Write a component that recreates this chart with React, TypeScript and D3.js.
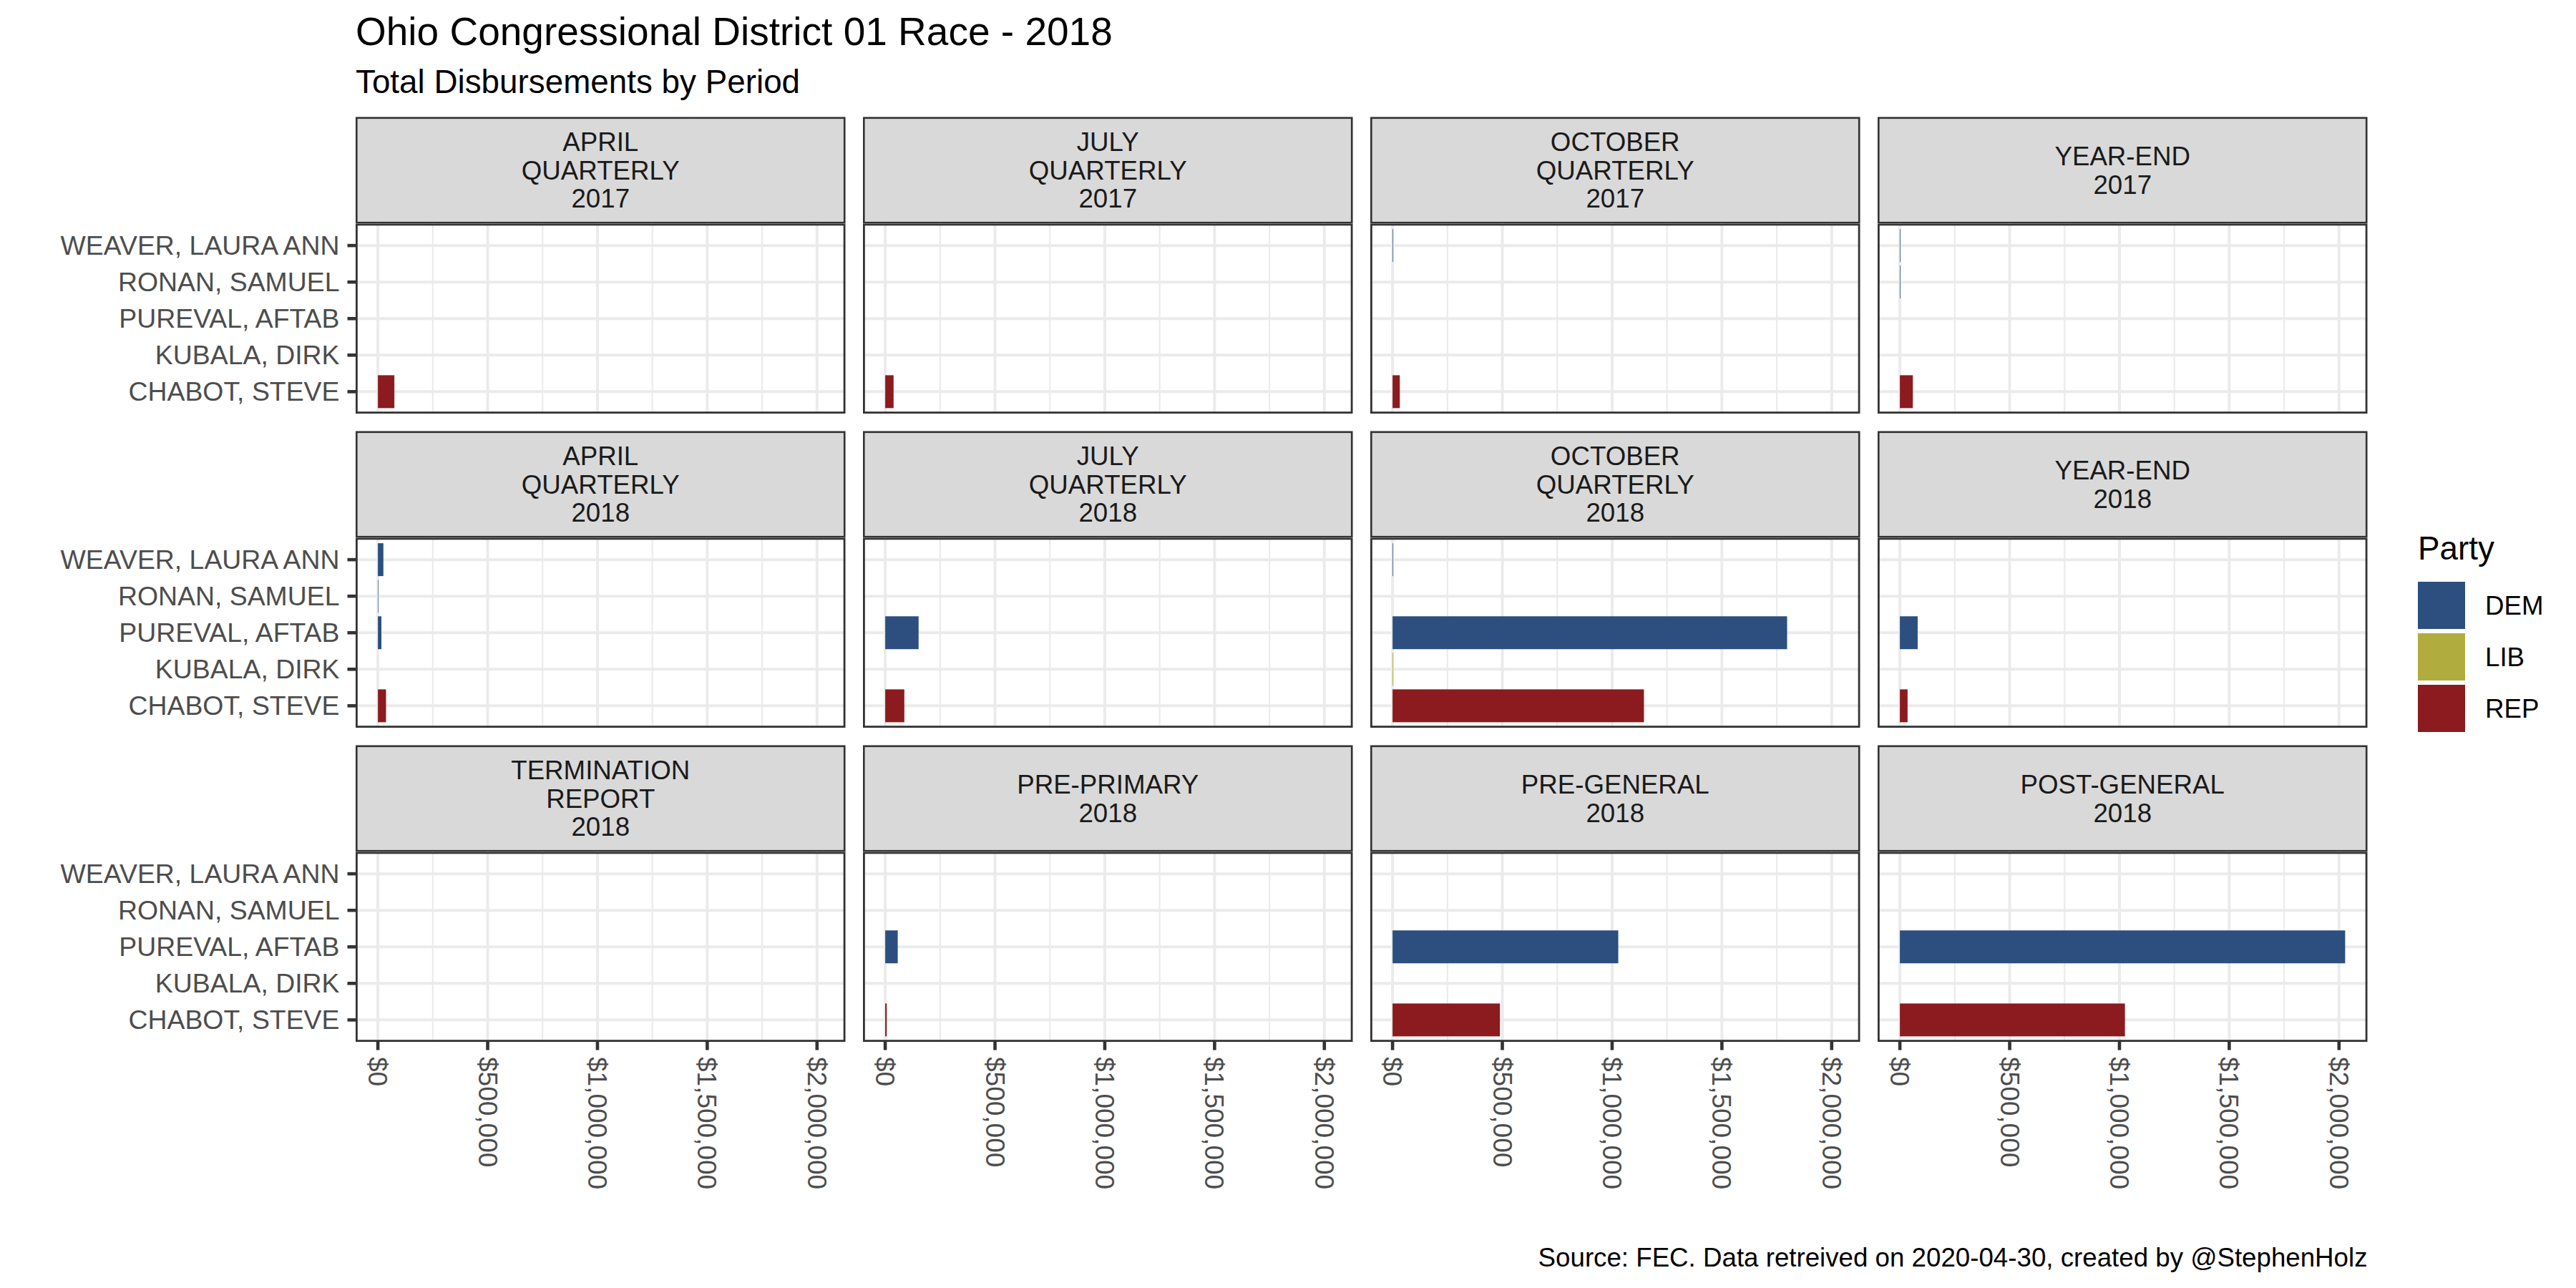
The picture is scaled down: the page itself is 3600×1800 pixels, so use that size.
import React from "react";
import * as d3 from "d3";

// ---------- DATA ----------
const candidates = ["CHABOT, STEVE", "KUBALA, DIRK", "PUREVAL, AFTAB", "RONAN, SAMUEL", "WEAVER, LAURA ANN"];
const candidateParty = ["REP", "LIB", "DEM", "DEM", "DEM"];
const parties = ["DEM", "LIB", "REP"];
const partyColors = ["#2C4F80", "#B1AC3E", "#8B1B1E"];

const periodLabels = [
  ["APRIL", "QUARTERLY", "2017"],
  ["JULY", "QUARTERLY", "2017"],
  ["OCTOBER", "QUARTERLY", "2017"],
  ["YEAR-END", "2017"],
  ["APRIL", "QUARTERLY", "2018"],
  ["JULY", "QUARTERLY", "2018"],
  ["OCTOBER", "QUARTERLY", "2018"],
  ["YEAR-END", "2018"],
  ["TERMINATION", "REPORT", "2018"],
  ["PRE-PRIMARY", "2018"],
  ["PRE-GENERAL", "2018"],
  ["POST-GENERAL", "2018"],
];

// values ordered as candidates: CHABOT, KUBALA, PUREVAL, RONAN, WEAVER
const aprilQ2017 = [75000, 0, 0, 0, 0];
const julyQ2017 = [38000, 0, 0, 0, 0];
const octoberQ2017 = [33000, 0, 0, 0, 2500];
const yearEnd2017 = [59000, 0, 0, 2500, 2500];
const aprilQ2018 = [37000, 0, 16000, 2000, 25000];
const julyQ2018 = [87000, 0, 152000, 0, 0];
const octoberQ2018 = [1145000, 3000, 1797000, 0, 2500];
const yearEnd2018 = [35000, 0, 81000, 0, 0];
const termination2018 = [0, 0, 0, 0, 0];
const prePrimary2018 = [7000, 0, 57000, 0, 0];
const preGeneral2018 = [489000, 0, 1028000, 0, 0];
const postGeneral2018 = [1025000, 0, 2028000, 0, 0];

const periodValues = [
  aprilQ2017, julyQ2017, octoberQ2017, yearEnd2017,
  aprilQ2018, julyQ2018, octoberQ2018, yearEnd2018,
  termination2018, prePrimary2018, preGeneral2018, postGeneral2018,
];

const xMajorTicks = [0, 500000, 1000000, 1500000, 2000000];
const xMinorTicks = [250000, 750000, 1250000, 1750000];

const titleText = "Ohio Congressional District 01 Race - 2018";
const subtitleText = "Total Disbursements by Period";
const captionText = "Source: FEC. Data retreived on 2020-04-30, created by @StephenHolz";
const legendTitle = "Party";

// ---------- LAYOUT ----------
const W = 3600;
const H = 1800;
const FONT = "'Liberation Sans', Arial, Helvetica, sans-serif";
const panelX0 = 497;
const panelW = 684.5;
const colStep = 709;
const panelY0 = 312.5;
const panelH = 265.5;
const rowStep = 439;
const stripH = 149;
const nCols = 4;

const grey20 = "#333333";
const grey30 = "#4D4D4D";
const grey85 = "#D9D9D9";
const grey92 = "#EBEBEB";

export default function App() {
  const allVals = periodValues.flat();
  const maxV = d3.max(allVals) as number;
  const x = d3.scaleLinear().domain([-0.05 * maxV, 1.05 * maxV]).range([0, panelW]);
  const y = d3
    .scaleBand<string>()
    .domain([...candidates].reverse())
    .range([0, panelH])
    .paddingInner(0.1)
    .paddingOuter(0.15);
  const color = d3.scaleOrdinal<string, string>().domain(parties).range(partyColors);
  const fmt = d3.format("$,.0f");
  const nRows = Math.ceil(periodLabels.length / nCols);

  return (
    <svg
      width={W}
      height={H}
      viewBox={`0 0 ${W} ${H}`}
      style={{ position: "absolute", left: 0, top: 0, background: "#fff" }}
      fontFamily={FONT}
    >
      <rect x={0} y={0} width={W} height={H} fill="#fff" />
      <text x={panelX0} y={63} fontSize={55} fill="#000">{titleText}</text>
      <text x={panelX0} y={130} fontSize={45.8} fill="#000">{subtitleText}</text>

      {periodLabels.map((lab, i) => {
        const c = i % nCols;
        const r = Math.floor(i / nCols);
        const px = panelX0 + c * colStep;
        const py = panelY0 + r * rowStep;
        const sy = py - stripH;
        const vals = periodValues[i];
        const lineH = 39.5;
        const midY = sy + stripH / 2;
        return (
          <g key={i}>
            {/* strip */}
            <rect x={px} y={sy} width={panelW} height={stripH} fill={grey85} />
            <rect x={px + 1.3} y={sy + 1.3} width={panelW - 2.6} height={stripH - 2.6} fill="none" stroke={grey20} strokeWidth={2.6} />
            {lab.map((t, k) => (
              <text
                key={k}
                x={px + panelW / 2}
                y={midY + (k - (lab.length - 1) / 2) * lineH}
                dy="0.35em"
                textAnchor="middle"
                fontSize={36.7}
                fill="#1A1A1A"
              >
                {t}
              </text>
            ))}
            {/* panel */}
            <g transform={`translate(${px},${py})`}>
              <rect x={0} y={0} width={panelW} height={panelH} fill="#fff" />
              {xMinorTicks.map((t) => (
                <line key={"mn" + t} x1={x(t)} x2={x(t)} y1={0} y2={panelH} stroke={grey92} strokeWidth={2.2} />
              ))}
              {xMajorTicks.map((t) => (
                <line key={"mj" + t} x1={x(t)} x2={x(t)} y1={0} y2={panelH} stroke={grey92} strokeWidth={4} />
              ))}
              {candidates.map((cd) => (
                <line
                  key={"hy" + cd}
                  x1={0}
                  x2={panelW}
                  y1={(y(cd) as number) + y.bandwidth() / 2}
                  y2={(y(cd) as number) + y.bandwidth() / 2}
                  stroke={grey92}
                  strokeWidth={4}
                />
              ))}
              {candidates.map((cd, j) =>
                vals[j] > 0 ? (
                  <rect
                    key={"b" + cd}
                    x={x(0)}
                    y={y(cd) as number}
                    width={x(vals[j]) - x(0)}
                    height={y.bandwidth()}
                    fill={color(candidateParty[j])}
                  />
                ) : null
              )}
              <rect x={1.4} y={1.4} width={panelW - 2.8} height={panelH - 2.8} fill="none" stroke={grey20} strokeWidth={2.8} />
              {/* y axis */}
              {c === 0 &&
                candidates.map((cd) => {
                  const cy = (y(cd) as number) + y.bandwidth() / 2;
                  return (
                    <g key={"ya" + cd}>
                      <line x1={-11.5} x2={0} y1={cy} y2={cy} stroke={grey20} strokeWidth={4.6} />
                      <text x={-22.5} y={cy} dy="0.35em" textAnchor="end" fontSize={37.4} fill={grey30}>
                        {cd}
                      </text>
                    </g>
                  );
                })}
              {/* x axis */}
              {r === nRows - 1 &&
                xMajorTicks.map((t) => (
                  <g key={"xa" + t}>
                    <line x1={x(t)} x2={x(t)} y1={panelH} y2={panelH + 11.5} stroke={grey20} strokeWidth={4.6} />
                    <text
                      transform={`translate(${x(t)},${panelH + 21}) rotate(90)`}
                      dy="0.35em"
                      textAnchor="start"
                      fontSize={37}
                      fill={grey30}
                    >
                      {fmt(t)}
                    </text>
                  </g>
                ))}
            </g>
          </g>
        );
      })}

      {/* legend */}
      <text x={3379} y={782} fontSize={45.8} fill="#000">{legendTitle}</text>
      {parties.map((p, k) => (
        <g key={p}>
          <rect x={3379} y={813 + k * 72} width={66} height={66} fill={color(p)} />
          <text x={3473} y={846 + k * 72} dy="0.35em" fontSize={36.7} fill="#000">
            {p}
          </text>
        </g>
      ))}

      <text x={panelX0 + (nCols - 1) * colStep + panelW} y={1770} textAnchor="end" fontSize={36.7} fill="#000">
        {captionText}
      </text>
    </svg>
  );
}
